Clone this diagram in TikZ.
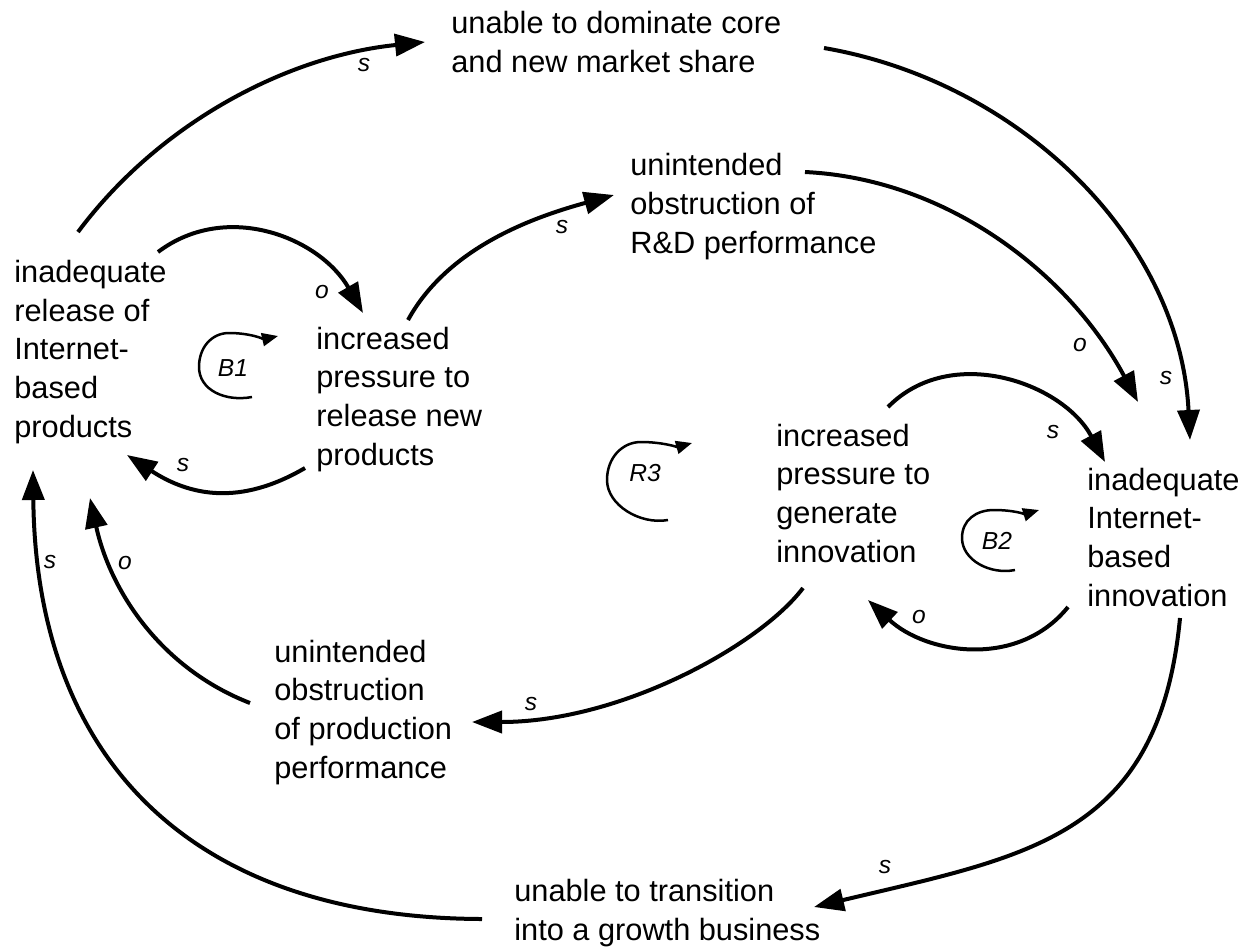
\documentclass[tikz,border=0pt]{standalone}
\usepackage{fontspec}
\setmainfont{Liberation Sans}
\usetikzlibrary{arrows.meta}
\begin{document}
\begin{tikzpicture}[x=0.02cm,y=-0.02cm,
  % multi-line names are anchored at the baseline of their last line
  varname/.style={anchor=base west, inner sep=0pt, align=left,
    font=\fontsize{17.5pt}{22pt}\selectfont},
  pol/.style={inner sep=0pt, font=\fontsize{14pt}{16pt}\selectfont\itshape},
  link/.style={line width=0.08cm, -{Triangle[length=0.6cm,width=0.44cm]}},
  loopmark/.style={line width=0.05cm, -{Triangle[length=0.32cm,width=0.26cm]}},
]
\useasboundingbox (0,0) rectangle (1250,947);

% variables
\node[varname] (dom)  at (451,72)  {unable to dominate core\\and new market share};
\node[varname] (rd)   at (630,253) {unintended\\obstruction of\\R\&D performance};
\node[varname] (rel)  at (14,437)  {inadequate\\release of\\Internet-\\based\\products};
\node[varname] (prel) at (316,465) {increased\\pressure to\\release new\\products};
\node[varname] (pinn) at (776,562) {increased\\pressure to\\generate\\innovation};
\node[varname] (inn)  at (1087,606) {inadequate\\Internet-\\based\\innovation};
\node[varname] (prod) at (274,778) {unintended\\obstruction\\of production\\performance};
\node[varname] (grow) at (514,940) {unable to transition\\into a growth business};

% connector end points
\coordinate (rel-a)   at (78,232);
\coordinate (dom-w)   at (425,42);
\coordinate (dom-e)   at (824,48);
\coordinate (inn-n1)  at (1190,440);
\coordinate (rd-e)    at (805,172);
\coordinate (inn-n2)  at (1138,402);
\coordinate (prel-n)  at (408,320);
\coordinate (rd-w)    at (614,195);
\coordinate (rel-b)   at (158,252);
\coordinate (prel-nw) at (363,313);
\coordinate (prel-s)  at (305,468);
\coordinate (rel-s1)  at (127,455);
\coordinate (prod-nw) at (250,703);
\coordinate (rel-s2)  at (90,498);
\coordinate (grow-w)  at (482,919);
\coordinate (rel-s3)  at (33,470);
\coordinate (pinn-s)  at (803,588);
\coordinate (prod-e)  at (472,722);
\coordinate (inn-s)   at (1180,618);
\coordinate (grow-e)  at (814,907);
\coordinate (inn-sw)  at (1068,607);
\coordinate (pinn-se) at (868,600);
\coordinate (pinn-n)  at (888,407);
\coordinate (inn-nw)  at (1105,462);

% causal links
\draw[link] (rel-a)   .. controls (160,122) and (288,56)   .. (dom-w);
\draw[link] (dom-e)   .. controls (1021,82) and (1180,240) .. (inn-n1);
\draw[link] (rd-e)    .. controls (949,179) and (1070,275) .. (inn-n2);
\draw[link] (prel-n)  .. controls (448,247) and (534,217)  .. (rd-w);
\draw[link] (rel-b)   .. controls (227,200) and (320,238)  .. (prel-nw);
\draw[link] (prel-s)  .. controls (240,506) and (190,496)  .. (rel-s1);
\draw[link] (prod-nw) .. controls (160,668) and (110,590)  .. (rel-s2);
\draw[link] (grow-w)  .. controls (192,918) and (36,760)   .. (rel-s3);
\draw[link] (pinn-s)  .. controls (761,644) and (622,722)  .. (prod-e);
\draw[link] (inn-s)   .. controls (1159,838) and (1027,856) .. (grow-e);
\draw[link] (inn-sw)  .. controls (1018,669) and (926,654) .. (pinn-se);
\draw[link] (pinn-n)  .. controls (951,343) and (1063,383) .. (inn-nw);

% link polarities
\node[pol] (p1)  at (364,65)   {s};
\node[pol] (p2)  at (1166,378) {s};
\node[pol] (p3)  at (1080,345) {o};
\node[pol] (p4)  at (562,227)  {s};
\node[pol] (p5)  at (322,292)  {o};
\node[pol] (p6)  at (183,465)  {s};
\node[pol] (p7)  at (125,563)  {o};
\node[pol] (p8)  at (50,562)   {s};
\node[pol] (p9)  at (531,704)  {s};
\node[pol] (p10) at (885,867)  {s};
\node[pol] (p11) at (919,617)  {o};
\node[pol] (p12) at (1053,432) {s};

% loop markers
\draw[loopmark] (252,397) .. controls (225,402) and (199,390) .. (199,367)
  .. controls (199,347) and (212,333) .. (229,333)
  .. controls (250,333) and (265,339) .. (278,336);
\node[pol] (b1) at (233,368) {B1};
\draw[loopmark] (668,520) .. controls (640,525) and (607,505) .. (607,480)
  .. controls (607,458) and (622,442) .. (641,442)
  .. controls (662,442) and (678,447) .. (692,443);
\node[pol] (r3) at (645,473) {R3};
\draw[loopmark] (1015,570) .. controls (990,575) and (962,560) .. (962,538)
  .. controls (962,520) and (976,510) .. (994,510)
  .. controls (1013,510) and (1026,514) .. (1039,510);
\node[pol] (b2) at (997,541) {B2};
\end{tikzpicture}
\end{document}
